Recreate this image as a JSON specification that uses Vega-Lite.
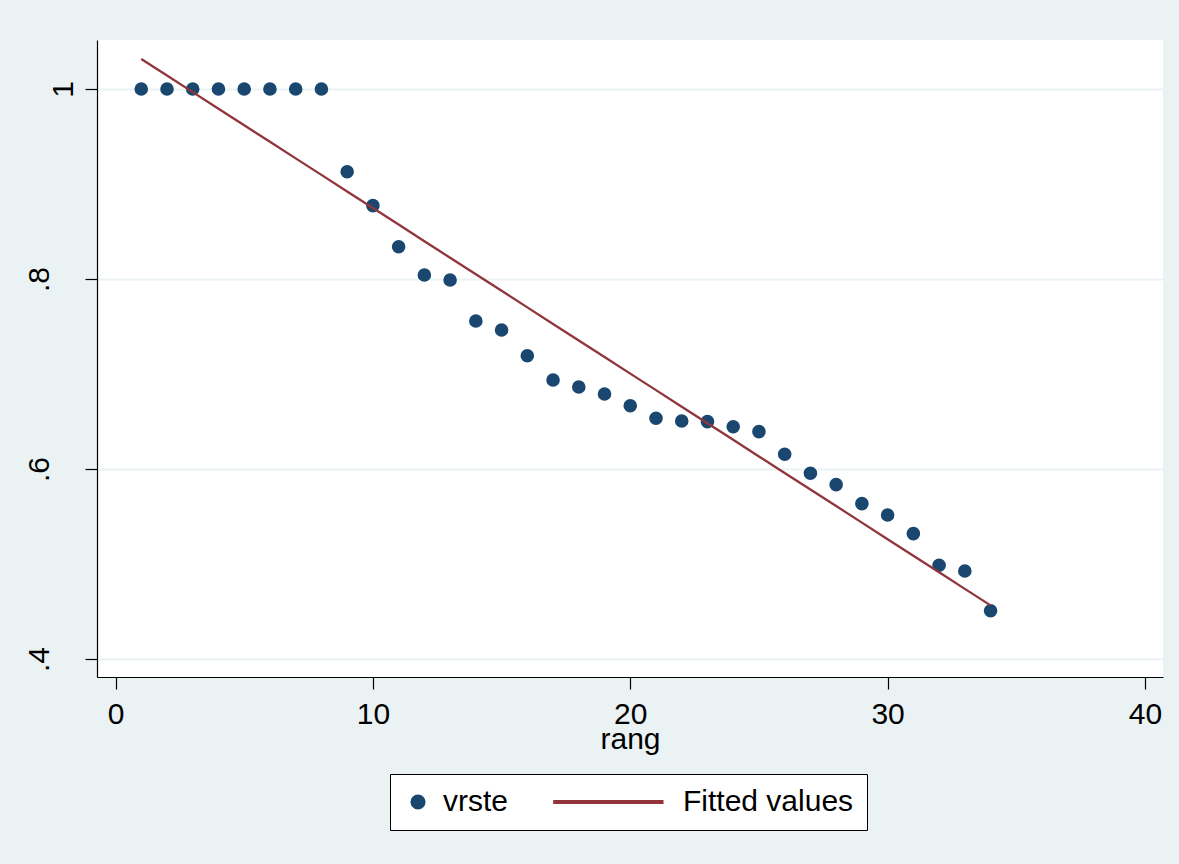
{
  "$schema": "https://vega.github.io/schema/vega-lite/v6.json",
  "width": 1066,
  "height": 637,
  "autosize": {"type": "none"},
  "padding": {"left": 97, "top": 40, "right": 16, "bottom": 187},
  "background": "#EAF2F3",
  "config": {
    "view": {"fill": "white", "stroke": null},
    "font": "Liberation Sans",
    "axis": {
      "domainColor": "#000000",
      "domainWidth": 1.2,
      "tickColor": "#000000",
      "tickWidth": 1.2,
      "tickSize": 12,
      "labelColor": "#000000",
      "labelFontSize": 30,
      "labelFont": "Liberation Sans",
      "titleColor": "#000000",
      "titleFont": "Liberation Sans",
      "titleFontSize": 30,
      "titleFontWeight": "normal",
      "labelFlush": false,
      "labelOverlap": false
    },
    "legend": {
      "orient": "none",
      "legendX": 293,
      "legendY": 734,
      "direction": "horizontal",
      "fillColor": "white",
      "strokeColor": "#000000",
      "cornerRadius": 0,
      "padding": 13,
      "columnPadding": 41,
      "labelOffset": 10,
      "labelFontSize": 30,
      "labelFont": "Liberation Sans",
      "labelColor": "#000000",
      "labelLimit": 400,
      "symbolSize": 185,
      "symbolOpacity": 1
    }
  },
  "data": {
    "values": [
      {"rang": 1, "vrste": 1.0, "fitted": 1.0316},
      {"rang": 2, "vrste": 1.0, "fitted": 1.0142},
      {"rang": 3, "vrste": 1.0, "fitted": 0.9967},
      {"rang": 4, "vrste": 1.0, "fitted": 0.9793},
      {"rang": 5, "vrste": 1.0, "fitted": 0.9619},
      {"rang": 6, "vrste": 1.0, "fitted": 0.9444},
      {"rang": 7, "vrste": 1.0, "fitted": 0.9270},
      {"rang": 8, "vrste": 1.0, "fitted": 0.9096},
      {"rang": 9, "vrste": 0.9129, "fitted": 0.8921},
      {"rang": 10, "vrste": 0.8772, "fitted": 0.8747},
      {"rang": 11, "vrste": 0.834, "fitted": 0.8573},
      {"rang": 12, "vrste": 0.8042, "fitted": 0.8398},
      {"rang": 13, "vrste": 0.7989, "fitted": 0.8224},
      {"rang": 14, "vrste": 0.7558, "fitted": 0.8050},
      {"rang": 15, "vrste": 0.7463, "fitted": 0.7876},
      {"rang": 16, "vrste": 0.7192, "fitted": 0.7701},
      {"rang": 17, "vrste": 0.6937, "fitted": 0.7527},
      {"rang": 18, "vrste": 0.6863, "fitted": 0.7353},
      {"rang": 19, "vrste": 0.6789, "fitted": 0.7178},
      {"rang": 20, "vrste": 0.6666, "fitted": 0.7004},
      {"rang": 21, "vrste": 0.6534, "fitted": 0.6830},
      {"rang": 22, "vrste": 0.6505, "fitted": 0.6655},
      {"rang": 23, "vrste": 0.6498, "fitted": 0.6481},
      {"rang": 24, "vrste": 0.6445, "fitted": 0.6307},
      {"rang": 25, "vrste": 0.6393, "fitted": 0.6132},
      {"rang": 26, "vrste": 0.6155, "fitted": 0.5958},
      {"rang": 27, "vrste": 0.5955, "fitted": 0.5784},
      {"rang": 28, "vrste": 0.5835, "fitted": 0.5610},
      {"rang": 29, "vrste": 0.5635, "fitted": 0.5435},
      {"rang": 30, "vrste": 0.5516, "fitted": 0.5261},
      {"rang": 31, "vrste": 0.5319, "fitted": 0.5087},
      {"rang": 32, "vrste": 0.4986, "fitted": 0.4912},
      {"rang": 33, "vrste": 0.4926, "fitted": 0.4738},
      {"rang": 34, "vrste": 0.4508, "fitted": 0.4564}
    ]
  },
  "layer": [
    {
      "mark": {"type": "point", "filled": true, "size": 185, "opacity": 1},
      "encoding": {
        "x": {
          "field": "rang",
          "type": "quantitative",
          "title": "rang",
          "scale": {"domain": [-0.72, 40.7], "nice": false, "zero": false},
          "axis": {
            "values": [0, 10, 20, 30, 40],
            "grid": false,
            "labelPadding": 10,
            "titleBaseline": "alphabetic",
            "titleY": 71
          }
        },
        "y": {
          "field": "vrste",
          "type": "quantitative",
          "title": null,
          "scale": {"domain": [0.381, 1.0516], "nice": false, "zero": false},
          "axis": {
            "values": [0.4, 0.6, 0.8, 1],
            "grid": true,
            "gridColor": "#EAF2F3",
            "gridWidth": 2,
            "labelAngle": -90,
            "labelAlign": "center",
            "labelBaseline": "alphabetic",
            "labelPadding": {"condition": {"test": "datum.value === 1", "value": 13}, "value": 37},
            "labelExpr": "datum.value === 1 ? '1' : replace(format(datum.value, '.1f'), '0.', '.')"
          }
        },
        "color": {
          "datum": "vrste",
          "type": "nominal",
          "scale": {"domain": ["vrste", "Fitted values"], "range": ["#1A476F", "#90353B"]},
          "legend": {"title": null}
        },
        "shape": {
          "datum": "vrste",
          "type": "nominal",
          "scale": {"domain": ["vrste", "Fitted values"], "range": ["circle", "M-15.3,-0.17H0.7V0.17H-15.3Z"]},
          "legend": {"title": null}
        }
      }
    },
    {
      "mark": {"type": "line", "strokeWidth": 2.3},
      "encoding": {
        "x": {"field": "rang", "type": "quantitative"},
        "y": {"field": "fitted", "type": "quantitative", "title": null},
        "color": {"datum": "Fitted values", "type": "nominal", "legend": {"title": null}}
      }
    }
  ]
}
